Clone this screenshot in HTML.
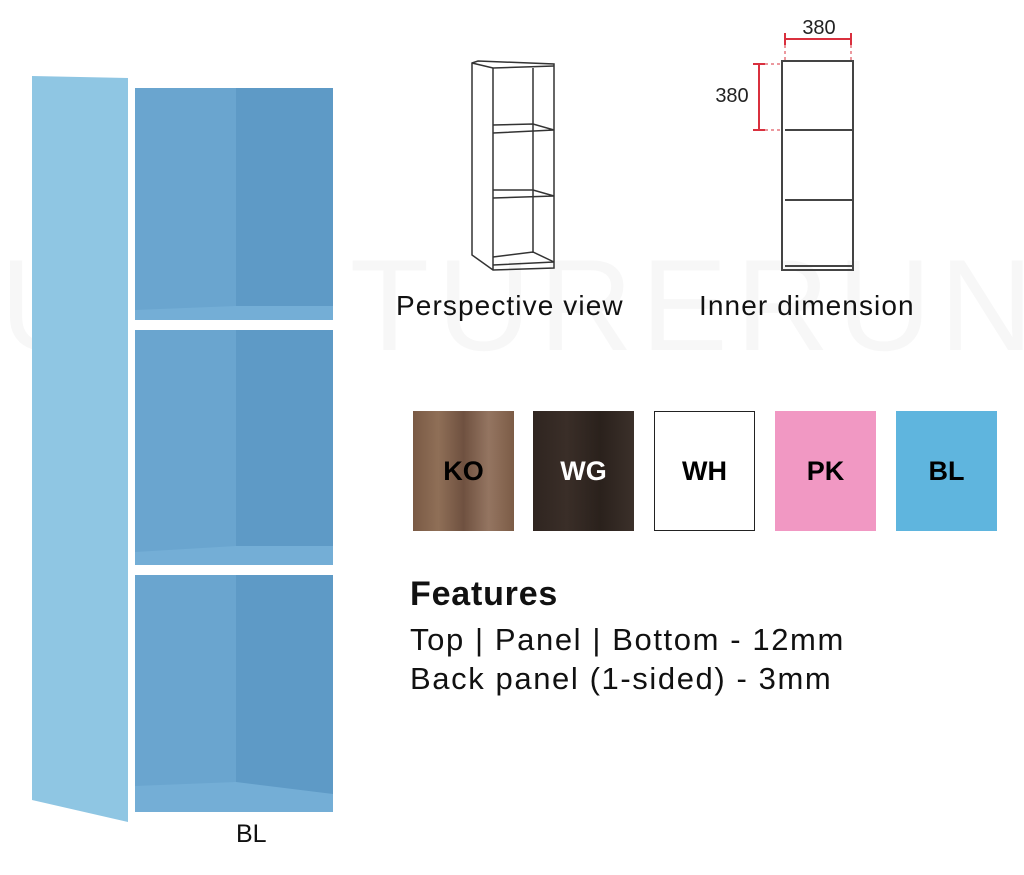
<!DOCTYPE html>
<html><head><meta charset="utf-8"><style>
body{margin:0;width:1024px;height:875px;background:#fff;position:relative;overflow:hidden;font-family:"Liberation Sans",sans-serif;}
.a{position:absolute}
.sw{position:absolute;top:411px;width:101px;height:120px;display:flex;align-items:center;justify-content:center;font-weight:bold;font-size:27px;}
</style></head><body>
<div class="a" style="left:0;top:230px;font-size:130px;color:#f7f7f7;letter-spacing:8px;white-space:nowrap">URNITURERUN</div>
<svg class="a" style="left:0;top:0" width="1024" height="875">
 <polygon points="32,76 128,78 128,822 32,800" fill="#8fc6e3"/>
 <polygon points="128,78 238,74 336,76 336,820 128,822" fill="#fff"/>
 <rect x="135" y="88" width="101" height="232" fill="#6aa5cf"/>
 <rect x="236" y="88" width="97" height="232" fill="#5e9ac6"/>
 <polygon points="135,320 333,320 333,306 236,306 135,310" fill="#74aed6"/>
 <rect x="135" y="330" width="101" height="235" fill="#6aa5cf"/>
 <rect x="236" y="330" width="97" height="235" fill="#5e9ac6"/>
 <polygon points="135,565 333,565 333,546 236,546 135,552" fill="#74aed6"/>
 <rect x="135" y="575" width="101" height="237" fill="#6aa5cf"/>
 <rect x="236" y="575" width="97" height="237" fill="#5e9ac6"/>
 <polygon points="135,812 333,812 333,794 236,782 135,786" fill="#74aed6"/>
 <g fill="none" stroke="#333" stroke-width="1.5">
  <polygon points="472,63 478,61 554,64 554,268 493,270 472,255"/>
  <polyline points="472,63 493,68 554,66"/>
  <line x1="493" y1="68" x2="493" y2="270"/>
  <line x1="533" y1="68" x2="533" y2="253"/>
  <polyline points="493,125 533,124 554,130 493,133"/>
  <polyline points="493,190 533,190 554,196 493,198"/>
  <polyline points="493,257 533,252 554,262 493,265"/>
 </g>
 <g fill="none" stroke="#444" stroke-width="2">
  <rect x="782" y="61" width="71" height="209"/>
  <line x1="785" y1="130" x2="852" y2="130"/>
  <line x1="785" y1="200" x2="852" y2="200"/>
  <line x1="785" y1="266" x2="852" y2="266"/>
 </g>
 <g stroke="#d9303e" stroke-width="2" fill="none">
  <line x1="785" y1="39" x2="851" y2="39"/><line x1="785" y1="33" x2="785" y2="45"/><line x1="851" y1="33" x2="851" y2="45"/>
  <line x1="759" y1="64" x2="759" y2="130"/><line x1="753" y1="64" x2="765" y2="64"/><line x1="753" y1="130" x2="765" y2="130"/>
  <line x1="765" y1="64" x2="782" y2="64" stroke-dasharray="3,3" stroke-width="1"/>
  <line x1="765" y1="130" x2="782" y2="130" stroke-dasharray="3,3" stroke-width="1"/>
  <line x1="785" y1="45" x2="785" y2="60" stroke-dasharray="3,3" stroke-width="1"/>
  <line x1="851" y1="45" x2="851" y2="60" stroke-dasharray="3,3" stroke-width="1"/>
 </g>
 <text x="819" y="34" font-size="20" text-anchor="middle" fill="#222" font-family="Liberation Sans">380</text>
 <text x="732" y="102" font-size="20" text-anchor="middle" fill="#222" font-family="Liberation Sans">380</text>
</svg>
<div class="a" style="left:396px;top:290px;font-size:28px;letter-spacing:1.1px;color:#111">Perspective view</div>
<div class="a" style="left:699px;top:290px;font-size:28px;letter-spacing:1.1px;color:#111">Inner dimension</div>
<div class="sw" style="left:413px;background:linear-gradient(90deg,#7a5a45,#8f6f57,#6f5140,#947561,#7c5c46);color:#000">KO</div>
<div class="sw" style="left:533px;background:linear-gradient(90deg,#2f2520,#3a2e28,#2a211c,#3b302a);color:#fff">WG</div>
<div class="sw" style="left:654px;background:#fff;border:1.5px solid #222;box-sizing:border-box;color:#000">WH</div>
<div class="sw" style="left:775px;background:#f198c3;color:#000">PK</div>
<div class="sw" style="left:896px;background:#5fb5de;color:#000">BL</div>
<div class="a" style="left:410px;top:575px;font-size:34px;letter-spacing:0.8px;font-weight:bold;color:#111">Features</div>
<div class="a" style="left:410px;top:620px;font-size:31px;letter-spacing:1.6px;color:#111;line-height:39px;white-space:nowrap">Top | Panel | Bottom - 12mm<br>Back panel (1-sided) - 3mm</div>
<div class="a" style="left:236px;top:820px;font-size:25px;color:#111">BL</div>
</body></html>
